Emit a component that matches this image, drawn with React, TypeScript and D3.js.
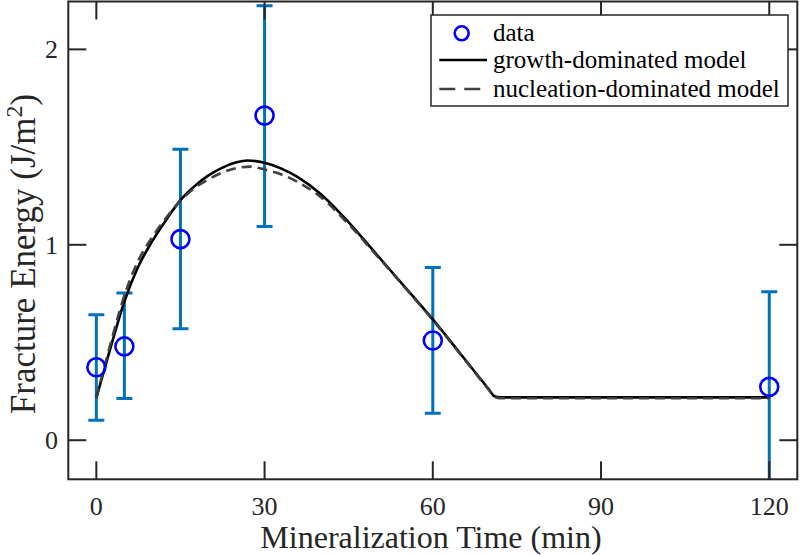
import React from "react";
import * as d3 from "d3";

const dataTime = [0, 5, 15, 30, 60, 120];
const dataMean = [0.373, 0.48, 1.029, 1.661, 0.51, 0.273];
const dataUpper = [0.642, 0.753, 1.489, 2.223, 0.884, 0.76];
const dataLower = [0.102, 0.213, 0.571, 1.094, 0.138, -0.215];

const growthTime = [0, 2.5, 5, 7.5, 10, 12.5, 15, 17.5, 20, 22.5, 25, 27, 30, 33, 36, 40, 45, 50, 55, 60, 65, 70, 71, 72, 90, 120];
const growthValue = [0.217, 0.47, 0.71, 0.89, 1.02, 1.13, 1.229, 1.30, 1.355, 1.395, 1.422, 1.431, 1.42, 1.39, 1.345, 1.26, 1.115, 0.95, 0.785, 0.618, 0.44, 0.26, 0.225, 0.219, 0.219, 0.219];

const nuclTime = [0, 2.5, 5, 7.5, 10, 12.5, 15, 17.5, 20, 22.5, 25, 27.5, 30, 33, 36, 40, 45, 50, 55, 60, 65, 70, 71, 72, 90, 120];
const nuclValue = [0.217, 0.49, 0.74, 0.92, 1.04, 1.14, 1.225, 1.29, 1.335, 1.37, 1.392, 1.40, 1.385, 1.36, 1.32, 1.245, 1.105, 0.945, 0.782, 0.615, 0.437, 0.257, 0.222, 0.215, 0.215, 0.215];

const xTicks = [0, 30, 60, 90, 120];
const yTicks = [0, 1, 2];

const legendLabels = ["data", "growth-dominated model", "nucleation-dominated model"];

export default function App() {
  const W = 800, H = 555;
  const L = 68.3, R = 797.3, T = 1.5, B = 479.3;
  const x = d3.scaleLinear().domain([-5, 125]).range([L, R]);
  const y = d3.scaleLinear().domain([-0.2, 2.245]).range([B, T]);
  const axisColor = "#262626";
  const font = "'Liberation Serif', 'Times New Roman', serif";
  const tickLen = 18;

  const line = d3
    .line<[number, number]>()
    .x((d) => x(d[0]))
    .y((d) => y(d[1]))
    .curve(d3.curveMonotoneX);

  const growthPts = growthTime.map((t, i) => [t, growthValue[i]] as [number, number]);
  const nuclPts = nuclTime.map((t, i) => [t, nuclValue[i]] as [number, number]);

  const capHalf = 8;

  return (
    <svg width={W} height={H} style={{ position: "absolute", left: 0, top: 0, background: "#fff" }}>
      <defs>
        <clipPath id="plotclip">
          <rect x={L} y={T} width={R - L} height={B - T} />
        </clipPath>
      </defs>
      <rect x={0} y={0} width={W} height={H} fill="#fff" />

      <g clipPath="url(#plotclip)">
        {dataTime.map((t, i) => (
          <g key={"eb" + i} stroke="#0072BD" strokeWidth={3} fill="none">
            <line x1={x(t)} x2={x(t)} y1={y(dataLower[i])} y2={y(dataUpper[i])} />
            <line x1={x(t) - capHalf} x2={x(t) + capHalf} y1={y(dataLower[i])} y2={y(dataLower[i])} />
            <line x1={x(t) - capHalf} x2={x(t) + capHalf} y1={y(dataUpper[i])} y2={y(dataUpper[i])} />
          </g>
        ))}
        <path d={line(growthPts) || ""} fill="none" stroke="#000" strokeWidth={2.6} />
        <path d={line(nuclPts) || ""} fill="none" stroke="#404040" strokeWidth={2.6} strokeDasharray="10,6" />
        {dataTime.map((t, i) => (
          <circle key={"m" + i} cx={x(t)} cy={y(dataMean[i])} r={9} fill="none" stroke="#0000FF" strokeWidth={2.6} />
        ))}
      </g>

      <rect x={L} y={T} width={R - L} height={B - T} fill="none" stroke={axisColor} strokeWidth={2} />

      {xTicks.map((t) => (
        <g key={"xt" + t}>
          <line x1={x(t)} x2={x(t)} y1={B} y2={B - tickLen} stroke={axisColor} strokeWidth={2} />
          <line x1={x(t)} x2={x(t)} y1={T} y2={T + tickLen} stroke={axisColor} strokeWidth={2} />
          <text x={x(t)} y={515} textAnchor="middle" fontFamily={font} fontSize={26} fill={axisColor}>
            {t}
          </text>
        </g>
      ))}
      {yTicks.map((v) => (
        <g key={"yt" + v}>
          <line x1={L} x2={L + tickLen} y1={y(v)} y2={y(v)} stroke={axisColor} strokeWidth={2} />
          <line x1={R} x2={R - tickLen} y1={y(v)} y2={y(v)} stroke={axisColor} strokeWidth={2} />
          <text x={58} y={y(v)} dy="0.35em" textAnchor="end" fontFamily={font} fontSize={26} fill={axisColor}>
            {v}
          </text>
        </g>
      ))}

      <text x={431} y={548} textAnchor="middle" fontFamily={font} fontSize={32} fill={axisColor}>
        Mineralization Time (min)
      </text>
      <text transform={`translate(35, 254) rotate(-90)`} textAnchor="middle" fontFamily={font} fontSize={35} fill={axisColor}>
        Fracture Energy (J/m<tspan dy={-13} fontSize={24}>2</tspan><tspan dy={13}>)</tspan>
      </text>

      <g>
        <rect x={431} y={15} width={357} height={91} fill="#fff" stroke={axisColor} strokeWidth={1.5} />
        <circle cx={461.7} cy={33.3} r={7} fill="none" stroke="#0000FF" strokeWidth={2.6} />
        <line x1={439.3} x2={487} y1={60} y2={60} stroke="#000" strokeWidth={2.6} />
        <line x1={439.3} x2={487} y1={89} y2={89} stroke="#404040" strokeWidth={2.6} strokeDasharray="16,9" />
        {legendLabels.map((lab, i) => (
          <text key={lab} x={493} y={[33.3, 60, 89][i]} dy="0.32em" fontFamily={font} fontSize={25} fill="#000">
            {lab}
          </text>
        ))}
      </g>
    </svg>
  );
}
